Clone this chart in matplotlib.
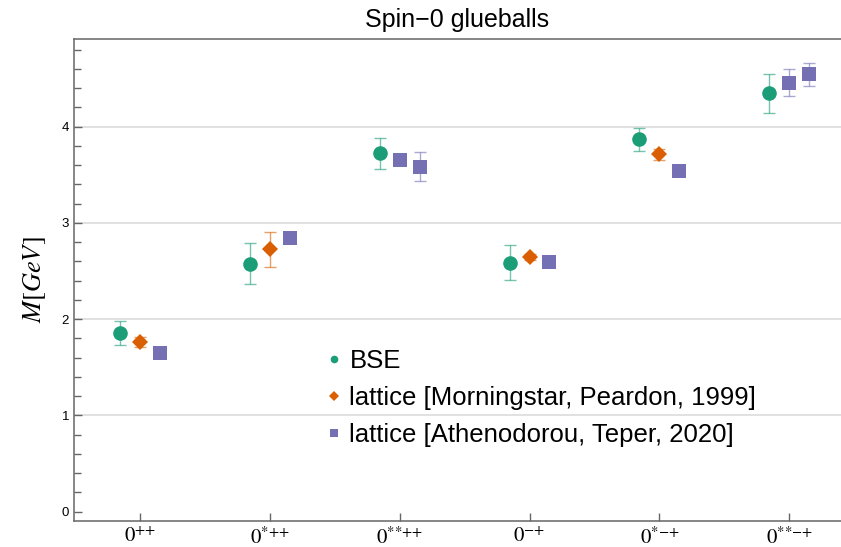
import numpy as np
import matplotlib.pyplot as plt
from matplotlib.lines import Line2D

plt.rcParams['font.family'] = ['Liberation Sans', 'DejaVu Sans']
plt.rcParams['mathtext.fontset'] = 'stix'

# categories (x positions 1..6); braces keep mathtext from spacing the signs
states = ['0^{{+}{+}}', '0^{{*}{+}{+}}', '0^{{*}{*}{+}{+}}',
          '0^{{-}{+}}', '0^{{*}{-}{+}}', '0^{{*}{*}{-}{+}}']

# BSE
bse_cat = [1, 2, 3, 4, 5, 6]
bse_m = [1.855, 2.574, 3.722, 2.587, 3.867, 4.347]
bse_err = [0.127, 0.213, 0.160, 0.182, 0.118, 0.200]

# lattice, Morningstar & Peardon 1999
mp_cat = [1, 2, 4, 5]
mp_m = [1.766, 2.724, 2.646, 3.712]
mp_err = [0.052, 0.185, 0.035, 0.055]

# lattice, Athenodorou & Teper 2020 (two states in 0**++ and 0**-+)
at_cat = [1, 2, 3, 3, 4, 5, 6, 6]
at_slot = [1, 1, 0, 1, 1, 1, 0, 1]
at_m = [1.652, 2.840, 3.654, 3.584, 2.597, 3.540, 4.457, 4.544]
at_err = [0.025, 0.025, 0.025, 0.150, 0.025, 0.035, 0.138, 0.118]

c_bse = '#1b9e77'
c_mp = '#d95f02'
c_at = '#7570b3'
dx = 0.153

fig = plt.figure(figsize=(8.41, 5.47), dpi=100)
ax = fig.add_axes([74 / 841, 26 / 547, 767 / 841, 482 / 547])


def draw(x, y, e, color, marker, ms):
    ax.errorbar(x, y, yerr=e, fmt='none', ecolor=color, alpha=0.6,
                elinewidth=1, capsize=4, capthick=1, zorder=2)
    ax.plot(x, y, ls='none', marker=marker, ms=ms, color=color,
            mec=color, mew=0, zorder=3)


draw(np.array(bse_cat) - dx, bse_m, bse_err, c_bse, 'o', 10.5)
draw(np.array(mp_cat), mp_m, mp_err, c_mp, 'D', 8)
draw(np.array(at_cat) + dx * np.array(at_slot), at_m, at_err, c_at, 's', 10.5)

ax.set_xlim(0.49, 6.40)
ax.set_ylim(-0.097, 4.911)
ax.set_xticks(range(1, len(states) + 1))
ax.set_xticklabels(['$' + s + '$' for s in states], fontsize=15)
ax.set_yticks([0, 1, 2, 3, 4])
ax.set_yticks(np.arange(0, 4.9, 0.2), minor=True)
ax.tick_params(axis='both', which='both', direction='in', color='#666666')
ax.tick_params(axis='y', which='major', length=6, width=1, labelsize=9.5)
ax.tick_params(axis='y', which='minor', length=5, width=1)
ax.tick_params(axis='x', which='major', length=6, width=1, pad=4)
ax.tick_params(axis='x', which='minor', bottom=False)

ax.yaxis.grid(True, color='#dcdcdc', lw=1.2)
for t, g in zip(ax.get_yticks(), ax.yaxis.get_gridlines()):
    if t == 0:
        g.set_visible(False)
ax.set_axisbelow(True)

for s in ['left', 'bottom', 'top']:
    ax.spines[s].set_color('#666666')
    ax.spines[s].set_linewidth(1.1)
ax.spines['right'].set_visible(False)

ax.set_ylabel('$M[GeV]$', fontsize=19, labelpad=10)
ax.set_title('Spin\u22120 glueballs', fontsize=18, pad=9)

handles = [
    Line2D([], [], ls='none', marker='o', ms=5.5, color=c_bse, mew=0),
    Line2D([], [], ls='none', marker='D', ms=5, color=c_mp, mew=0),
    Line2D([], [], ls='none', marker='s', ms=6, color=c_at, mew=0),
]
labels = ['BSE', 'lattice [Morningstar, Peardon, 1999]',
          'lattice [Athenodorou, Teper, 2020]']
ax.legend(handles, labels, loc='center left', bbox_to_anchor=(0.329, 0.255),
          frameon=False, fontsize=18.5, handlelength=0.6, handletextpad=0.3,
          labelspacing=0.5, borderpad=0, borderaxespad=0)

fig.savefig('out.png', dpi=100)
